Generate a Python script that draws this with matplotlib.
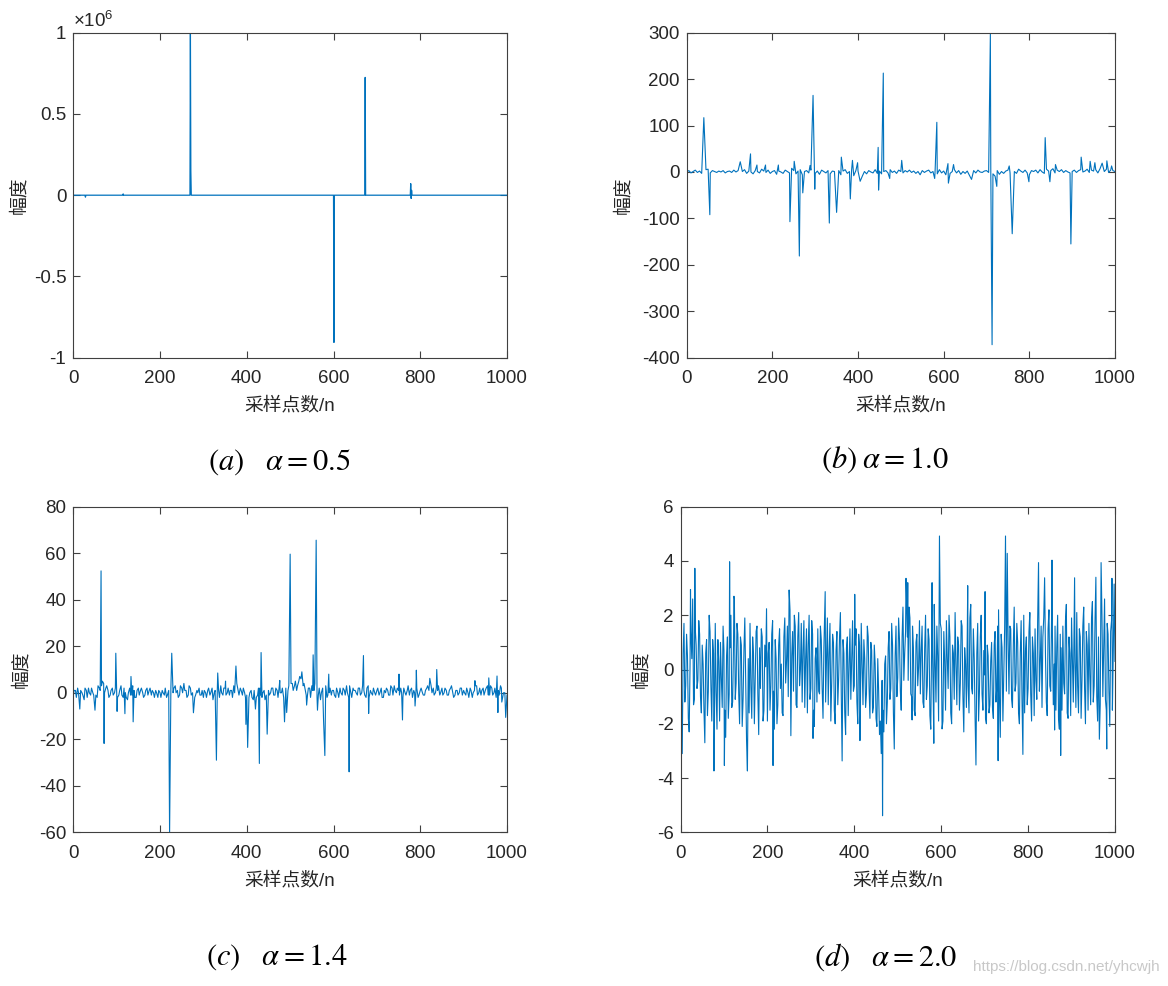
import matplotlib
matplotlib.use("Agg")
import matplotlib.pyplot as plt

plt.rcParams['font.family'] = ['Liberation Sans', 'Noto Sans CJK SC']
plt.rcParams['axes.unicode_minus'] = False
plt.rcParams['mathtext.fontset'] = 'custom'
plt.rcParams['mathtext.rm'] = 'Liberation Sans'
plt.rcParams['mathtext.it'] = 'Liberation Sans:italic'

# === Data ===
# (a) alpha = 0.5 : essentially zero except a few huge spikes
a_idx = [0, 27, 28, 29, 114, 115, 116, 269, 270, 271, 272, 600, 601, 602,
         672, 673, 674, 777, 778, 779, 780, 781, 1000]
a_val = [0, 0, -1.2e4, 0, 0, 8e3, 0, 0, 1.0e6, 1.5e5, 0, 0, -9.06e5, 0,
         0, 7.25e5, 0, 0, 7.1e4, -2.0e4, 3e4, 0, 0]

# (b) alpha = 1.0 : background every 5 samples + spikes
b_step = 5
b_base = [0, 3, -2, 1, 4, -1, 2, -3, 1, 5,
          6, -2, 3, 1, -1, 2, 0, 3, -2, 1,
          2, -1, 4, 0, 3, -2, 1, 5, -3, 2,
          0, -4, 3, 1, -2, 6, 2, -1, 4, -3,
          1, 3, -5, 2, 0, -3, 4, 1, -2, 8,
          3, -4, 2, 5, -6, 1, 3, -2, 4, 0,
          -3, 2, -5, 4, 1, -2, 3, -4, 2, 1,
          -1, 3, -6, 2, 5, -3, 1, 4, -8, 3,
          2, -5, -9, 1, -4, 3, 0, -2, 5, -3,
          2, -4, 1, 3, -2, 5, -1, 2, -3, 4,
          1, -2, 3, 0, 4, -1, 2, -3, 1, -6,
          3, -1, 2, 4, -2, 1, 3, -4, 5, -2,
          2, -6, 4, -3, 1, 5, -2, 3, -5, 1,
          -3, 2, -7, 1, 3, -2, 4, 0, -1, 2,
          3, -1, 2, -4, -9, 3, -5, 1, -3, 2,
          4, -2, 5, 1, -3, 6, 2, -1, 4, -2,
          -6, 3, 1, 4, -2, 5, 0, -3, 6, 2,
          3, 7, -2, 4, 1, 5, -1, 3, 0, -2,
          1, 4, -1, 3, 5, 0, 2, 6, -1, 4,
          2, 5, -2, 7, 3, 1, 6, -1, 4, 3,
          1]
b_idx = [40, 54, 125, 149, 164, 184, 214, 241, 251, 263,
         271, 288, 295, 299, 333, 350, 361, 382, 387, 399,
         405, 447, 448, 459, 474, 502, 579, 584, 610, 611,
         623, 665, 709, 713, 724, 753, 760, 799, 837, 848,
         861, 897, 921, 942, 953, 970, 981, 992]
b_val = [117, -92, 22, 39, 15, 15, 15, -107, 23, -181,
         -45, 14, 165, -37, -110, -87, 32, -58, 25, 20,
         -20, 53, -39, 213, -14, 25, -14, 107, 18, -24,
         16, -16, 297, -372, -31, 13, -133, -21, 74, -21,
         16, -155, 32, 23, 20, 19, 24, 13]

# (c) alpha = 1.4 : background at 0,5,10,... and 2,7,12,... + spikes
c_step = 5
c_base = [-1, 1, 2, -2, 0, -3, 1, 2, -1, 0,
          1, -2, 2, 3, 4, 2, 1, -1, 2, 0,
          1, -1, 3, -2, 0, -3, 2, -1, 1, -2,
          2, 1, 0, -1, 2, 1, -1, 0, 1, -2,
          0, 1, -1, -2, 1, 2, 0, 3, 1, -1,
          2, 4, 1, -1, 2, 0, -2, 1, 2, -1,
          -2, 0, 1, -1, 2, 0, -2, 1, 3, -1,
          2, 0, -1, 1, 3, 2, 1, 2, -1, 0,
          -1, -2, 1, -3, 0, -1, 2, -2, 1, -1,
          1, 0, 2, -1, 1, 3, 0, -2, 2, 1,
          2, 4, 3, 1, 5, 6, 3, 1, -1, 2,
          3, 1, 2, -1, -3, 2, 1, -2, 0, -1,
          1, -2, 0, 2, -1, 1, 3, -2, 0, 2,
          1, -1, 2, 0, 1, -2, 3, 1, -1, 0,
          1, -1, 2, -2, 0, 1, -1, 2, 3, 0,
          1, 2, -2, 0, 1, -1, 2, 1, 0, -2,
          1, 0, -1, 2, 1, 3, 2, 0, 1, -1,
          2, 0, 1, -1, 2, 0, -1, 1, 0, 2,
          1, -1, 0, 2, -2, 1, 3, 0, -1, 2,
          1, 3, -1, 2, 0, -2, 1, 3, -2, 0,
          -1]
c_mid = [1, -2, 0, 1, -1, 2, -2, 0, 2, -1,
         -1, 3, 1, 5, 0, 3, -2, 1, -1, 2,
         -2, 1, -1, 2, -2, 0, -1, 3, -2, 1,
         -1, 2, -2, 1, -1, 2, 1, -2, 0, 1,
         -2, 0, 2, -1, 0, -1, 2, 0, -2, 3,
         0, 1, -2, 3, -1, 2, -1, 0, -1, 1,
         1, -2, 2, 0, -3, 1, 1, -2, 0, 2,
         -1, 2, 1, -2, 0, 4, -1, 1, 2, -2,
         1, 0, -2, 1, -2, 2, -1, 0, -3, 2,
         -1, 2, -1, 2, -2, 0, 2, 1, -1, 3,
         4, 1, 5, 3, 7, 2, 4, -1, 2, -2,
         1, 4, -2, 2, 0, -1, 3, -1, 2, 1,
         -1, 2, -2, 0, 2, -1, 0, 3, -2, 1,
         0, 2, -1, 3, -1, 2, -2, 0, 2, -1,
         2, 0, -2, 1, 2, -1, 3, -1, 1, 2,
         -1, 0, 2, -1, 3, 1, -2, 0, 2, -1,
         2, -1, 1, 3, -1, 0, -1, 2, 3, 0,
         -1, 2, -1, 1, 3, -2, 1, -1, 2, -1,
         0, 2, -2, 1, 0, 3, -1, 2, 1, -1,
         2, -1, 3, -1, 2, 0, -1, 2, 0, -3]
c_idx = [15, 50, 64, 71, 98, 101, 119, 133, 138, 222,
         227, 277, 330, 333, 351, 375, 398, 402, 420, 429,
         433, 447, 476, 487, 492, 500, 527, 538, 553, 560,
         563, 577, 580, 589, 636, 669, 681, 751, 759, 788,
         791, 822, 838, 926, 958, 977, 979, 988, 997]
c_val = [-7, -7.5, 52.4, -21.8, 17, -8, -9, 7, -12.5, -61,
         17, -8.6, -29, 8.5, 5, 11.5, -13.6, -23.5, -7, -30.4,
         17.3, -17.8, 5.3, -12.5, -8.5, 59.6, 9, -5.3, 16.3, 65.6,
         -7.5, -11.7, -27, 8, -34, 16, -8.9, 8, -11.7, -5.7,
         9.7, 6.2, 10, 5.2, 6.4, 7.2, -8.5, -4, -10.6]

# (d) alpha = 2.0 : samples at 0,4,8,... and 2,6,10,... + visible extremes
d_step = 4
d_base = [0.8, -1.5, 1.7, -0.6, 0.5, -2.3, 1.4, 2.6, -1.1, 0.9,
          -0.4, 1.3, -1.6, 0.2, -2.7, 1.1, -0.8, 1.4, -1.9, 0.6,
          1.7, -2.2, 0.3, 1.0, -1.4, 0.7, -2.5, 1.2, -0.9, 2.0,
          -1.2, 2.6, -0.5, 1.3, -2.0, 0.9, -1.1, 1.9, -2.6, 0.4,
          1.7, -1.8, 0.6, -0.2, 1.6, -2.4, -0.7, 1.2, -1.5, 0.1,
          -1.9, 1.0, -0.6, 1.8, -2.2, 0.4, -1.3, 1.5, 0.2, -1.7,
          1.9, 0.3, -1.0, 2.2, 0.5, -0.8, 1.6, -1.4, 2.1, 0.0,
          -1.2, 1.8, 0.4, -1.6, 2.0, -0.7, 1.3, -2.1, 0.8, 1.5,
          -0.9, 1.1, -1.8, 2.2, 0.3, -1.3, 1.7, -0.5, 1.0, -2.0,
          1.4, -0.3, 2.1, -1.7, 0.6, -2.4, 1.2, 0.2, -1.1, 1.8,
          -0.6, 1.5, -2.0, 0.9, 1.7, -1.3, 0.4, -0.9, 1.2, -1.8,
          0.7, -1.4, 0.2, -2.1, -0.8, -1.9, -0.4, -2.3, 0.5, -1.2,
          1.4, -0.7, 0.9, -2.0, 1.6, -0.3, 1.1, -1.5, 2.3, 0.6,
          2.8, -0.4, 1.9, -1.0, 0.8, -1.7, 1.3, 0.1, -0.9, 1.6,
          -1.4, 2.0, -0.6, 1.1, -2.2, 0.7, 2.4, -1.2, 0.5, -0.8,
          1.5, -1.9, 0.3, 1.8, -0.7, 1.2, -2.0, 0.6, 2.1, -1.3,
          0.9, -0.5, 1.6, -2.3, 0.2, 1.3, -1.6, 2.4, -0.9, 0.4,
          -1.1, 1.7, -0.8, 2.0, -1.5, -0.2, -2.0, 0.5, -1.3, 1.0,
          -1.8, 1.4, -0.6, 2.2, -2.5, 0.8, -0.3, 1.9, 2.7, -0.9,
          1.5, -1.4, 2.3, -0.5, 1.0, -2.0, 1.8, 0.4, -1.6, 1.2,
          -0.7, 2.1, -1.9, 0.6, 1.5, -1.1, 2.5, 0.3, -1.4, 1.9,
          0.5, -1.7, 2.2, -0.8, 1.3, 0.2, -1.5, 2.0, -2.2, 0.8,
          1.6, -0.9, 2.4, -1.8, 0.6, 1.9, -1.2, 0.3, 2.1, -1.6,
          1.2, -0.4, 2.3, -2.0, 0.9, 1.7, -1.3, 2.5, -0.6, 1.1,
          -1.9, 2.2, 0.4, -1.0, 2.6, -1.5, 1.3, -2.1, 1.8, 0.6,
          0.3]
d_mid = [-0.9, 0.6, -1.2, 1.3, -1.8, 0.2, 0.4, -1.3, 1.5, -0.7,
         1.8, -1.0, 0.9, -1.5, 0.6, -1.7, 2.0, -0.6, 1.1, -2.2,
         -0.8, 1.1, -1.9, -0.3, 1.6, -1.5, 0.5, -1.8, 0.8, -1.4,
         0.9, -1.1, 1.7, -0.9, 1.2, -2.1, 0.7, -0.4, 1.3, -1.6,
         -0.6, 1.2, -2.0, 1.4, -0.9, 0.8, 1.5, -1.9, 0.9, -2.3,
         0.6, -1.5, 1.3, -0.8, 1.1, -2.0, 0.9, -0.7, -1.6, 1.2,
         -0.5, 1.6, 1.8, -0.9, 1.4, 2.0, -1.3, 1.2, -0.6, 1.7,
         0.7, -1.4, 1.5, 0.9, -1.1, 1.8, -1.5, 0.4, -1.2, -0.8,
         1.6, -0.7, 0.8, -1.2, 1.9, 0.6, -1.9, 1.3, -1.5, 0.7,
         -1.3, 1.2, -0.9, 1.1, -1.6, 0.8, -1.7, 1.5, 0.4, -0.8,
         0.9, -1.2, 1.3, -1.5, 0.1, 1.1, -1.4, 1.6, -0.7, 1.0,
         -1.6, 0.9, -1.8, 0.4, -2.4, 0.3, -1.5, 0.2, -2.0, 0.8,
         -1.1, 1.7, -1.6, 0.5, -1.0, 1.9, -0.8, 1.2, -0.4, 1.4,
         1.2, 2.3, -0.9, 1.6, -1.5, 1.0, -0.6, 1.8, 0.7, -1.2,
         0.8, -1.1, 1.5, -1.7, 1.0, -1.4, 0.3, 1.6, -1.9, 1.7,
         -0.6, 1.4, -1.5, 0.4, 2.0, -1.6, 0.9, -1.1, 0.2, 1.2,
         -1.5, 1.8, -1.0, 0.8, -1.4, -0.6, 1.9, -0.7, 1.5, -1.8,
         0.6, -1.9, 1.2, -0.9, 0.7, -1.8, 0.9, -1.6, 0.3, -1.4,
         0.9, -1.2, 1.6, -1.0, 1.3, -1.9, 1.5, -0.8, 1.1, 1.6,
         -1.1, 0.9, -0.8, 1.7, -1.6, 0.6, -1.2, 2.0, 0.7, -1.3,
         1.4, -0.9, 1.2, -1.7, -0.4, 1.8, -0.8, 1.6, 1.2, -1.0,
         -1.2, 1.5, -0.6, 1.9, -1.3, 1.6, 0.8, -1.8, 1.3, -1.5,
         -0.5, 1.8, -1.6, 1.2, -1.7, 0.4, 1.7, -1.4, -0.6, 1.5,
         -1.8, 1.6, -0.7, 1.4, -1.5, -0.2, 1.9, -1.2, 1.8, -1.0,
         1.2, -1.3, 2.0, 0.9, -1.1, 1.7, -0.8, 1.4, -1.5, 1.9]
d_idx = [4, 23, 33, 77, 101, 113, 123, 154, 198, 213,
         250, 254, 305, 333, 372, 401, 413, 462, 465, 492,
         519, 523, 533, 579, 583, 596, 602, 661, 680, 701,
         731, 748, 752, 788, 824, 838, 855, 861, 875, 907,
         956, 964, 968, 981, 993, 998]
d_val = [-3.1, 2.95, 3.73, -3.74, -3.54, 3.97, 2.7, -3.74, 2.24, -3.54,
         2.93, -2.44, -2.54, 2.87, -3.37, 2.77, -2.62, -3.1, -5.39, -2.93,
         3.36, 3.2, -1.86, 3.2, -2.72, 4.92, -2.19, 3.09, -3.52, 2.87,
         -3.36, 4.92, 4.28, -3.13, 3.94, 3.38, 4.03, -2.23, -3.17, 3.38,
         3.4, -2.57, 3.94, -2.93, 3.36, 3.15]

captions = [r'$(a)\quad\alpha=0.5$', r'$(b)\;\alpha=1.0$',
            r'$(c)\quad\alpha=1.4$', r'$(d)\quad\alpha=2.0$']


def merge(series, idx, val):
    # series: list of (first sample, step, values)
    pts = {}
    for start, step, values in series:
        pts.update(zip(range(start, start + step * len(values), step), values))
    pts.update(zip(idx, val))
    xs = sorted(pts)
    return xs, [pts[k] for k in xs]


W, H = 1168, 986
fig = plt.figure(figsize=(W / 100, H / 100), dpi=100)


def box(l, t, r, b):
    return fig.add_axes([l / W, 1 - b / H, (r - l) / W, (b - t) / H])


line_color = '#0072BD'
txt_color = '#262626'


def style(ax, ylim, yticks, ylabel_x, yticklabels=None):
    ax.set_xlim(0, 1000)
    ax.set_ylim(*ylim)
    ax.set_xticks(range(0, 1001, 200))
    ax.set_yticks(yticks)
    if yticklabels is not None:
        ax.set_yticklabels(yticklabels)
    ax.tick_params(direction='in', top=True, right=True, length=5, width=0.8,
                   color='#404040', labelcolor=txt_color, labelsize=13.5)
    ax.tick_params(axis='x', pad=9)
    ax.tick_params(axis='y', pad=5)
    for s in ax.spines.values():
        s.set_color('#404040')
        s.set_linewidth(0.8)
    ax.set_xlabel('采样点数/n', fontsize=13.5, color=txt_color)
    ax.xaxis.set_label_coords(0.5, -0.148)
    ax.xaxis.label.set_va('center')
    ax.set_ylabel('幅度', fontsize=13.5, color=txt_color)
    ax.yaxis.set_label_coords(ylabel_x, 0.5)
    ax.yaxis.label.set_va('center')
    ax.yaxis.label.set_ha('center')


# (a)
ax_a = box(73.3, 32.7, 507, 357.7)
ax_a.plot(a_idx, a_val, color=line_color, lw=0.9)
style(ax_a, (-1e6, 1e6), [-1e6, -0.5e6, 0, 0.5e6, 1e6], -0.125,
      ['-1', '-0.5', '0', '0.5', '1'])
ax_a.text(0.0, 1.005, '×10$^{6}$', transform=ax_a.transAxes, fontsize=13.5,
          color=txt_color, ha='left', va='bottom')

# (b)
ax_b = box(686.7, 32.7, 1115, 357.7)
bx, by = merge([(0, b_step, b_base)], b_idx, b_val)
ax_b.plot(bx, by, color=line_color, lw=0.8)
style(ax_b, (-400, 300), range(-400, 301, 100), -0.147)

# (c)
ax_c = box(73.3, 506.7, 507, 832.3)
cx, cy = merge([(0, c_step, c_base), (2, c_step, c_mid)], c_idx, c_val)
ax_c.plot(cx, cy, color=line_color, lw=0.8)
style(ax_c, (-60, 80), range(-60, 81, 20), -0.119)

# (d)
ax_d = box(680.5, 506.7, 1115, 832.3)
dx, dy = merge([(0, d_step, d_base), (2, d_step, d_mid)], d_idx, d_val)
ax_d.plot(dx, dy, color=line_color, lw=0.8)
style(ax_d, (-6, 6), range(-6, 7, 2), -0.091)

# captions under each panel
cap_pos = [(279, 462), (885, 460), (277, 957), (886, 957)]
for (px, py), cap in zip(cap_pos, captions):
    fig.text(px / W, 1 - py / H, cap, fontsize=22, ha='center', va='center',
             math_fontfamily='stix', color='black')

fig.text(1160 / W, 1 - 967 / H, 'https://blog.csdn.net/yhcwjh', fontsize=11,
         color='#c8c8c8', ha='right', va='center')

fig.savefig('out.png', dpi=100)
